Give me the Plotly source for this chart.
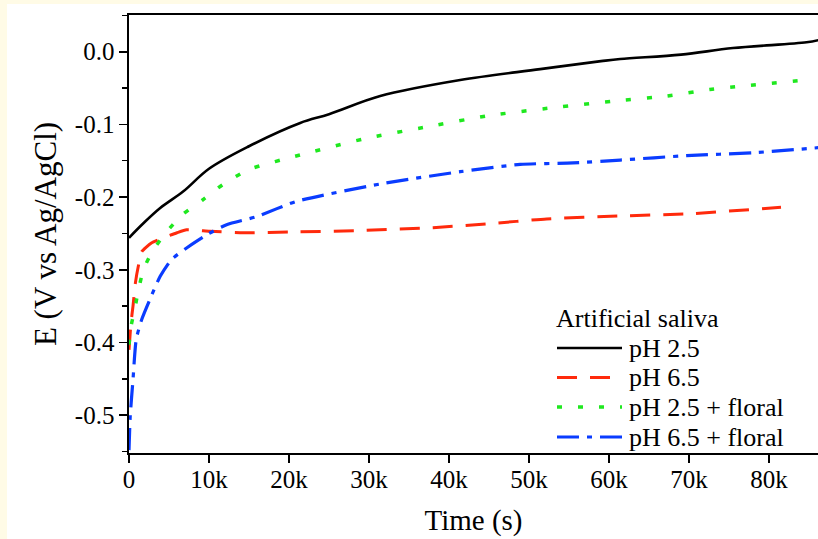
import plotly.graph_objects as go

# ---- data ----
t_ph25 = [0, 1800, 3900, 6800, 10000, 15000, 21400, 25000, 31400, 41400, 51400, 59000,
          61400, 69000, 75500, 84700, 86200]
e_ph25 = [-0.256, -0.236, -0.215, -0.192, -0.161, -0.130, -0.098, -0.086, -0.061, -0.039,
          -0.024, -0.013, -0.010, -0.004, 0.005, 0.013, 0.016]

t_ph65 = [0, 250, 500, 800, 1200, 1600, 2800, 4500, 6000, 7200, 10100, 14300, 20500,
          28900, 38000, 44600, 52200, 61400, 70000, 81500]
e_ph65 = [-0.410, -0.373, -0.350, -0.318, -0.293, -0.275, -0.263, -0.255, -0.249, -0.245,
          -0.247, -0.249, -0.248, -0.246, -0.242, -0.237, -0.230, -0.226, -0.223, -0.214]

t_ph25f = [0, 250, 750, 1200, 1800, 2900, 4600, 6700, 9200, 11700, 15000, 21400, 29300,
           37400, 44900, 53000, 61400, 67200, 72600, 76800, 84500]
e_ph25f = [-0.403, -0.378, -0.352, -0.327, -0.300, -0.275, -0.249, -0.224, -0.204, -0.183,
           -0.162, -0.142, -0.120, -0.103, -0.088, -0.077, -0.067, -0.061, -0.052, -0.047,
           -0.039]

t_ph65f = [0, 150, 500, 900, 1600, 2600, 3900, 5300, 7200, 9700, 12200, 15900, 20900,
           31400, 41400, 48900, 55500, 61400, 69700, 78000, 86200]
e_ph65f = [-0.548, -0.502, -0.451, -0.396, -0.368, -0.341, -0.309, -0.286, -0.270, -0.252,
           -0.238, -0.227, -0.206, -0.182, -0.165, -0.155, -0.153, -0.149, -0.143, -0.139,
           -0.132]

legend_title = "Artificial saliva"
series_names = ["pH 2.5", "pH 6.5", "pH 2.5 + floral", "pH 6.5 + floral"]

x_tickvals = [0, 10000, 20000, 30000, 40000, 50000, 60000, 70000, 80000]
x_ticktext = ["0", "10k", "20k", "30k", "40k", "50k", "60k", "70k", "80k"]
y_tickvals = [-0.5, -0.4, -0.3, -0.2, -0.1, 0.0]
y_ticktext = ["-0.5", "-0.4", "-0.3", "-0.2", "-0.1", "0.0"]

FONT = "Liberation Serif, Times New Roman, serif"

styles = [
    dict(color="#000000", width=2.6, dash="solid"),
    dict(color="#FF2A0C", width=3, dash="20px,13px"),
    dict(color="#1FE81F", width=3.5, dash="5px,16px"),
    dict(color="#0A3CFF", width=3.2, dash="22px,8px,5px,8px"),
]
smooth = [1.0, 0.5, 0.6, 0.6]

fig = go.Figure()
for (tx, ey), name, st, sm in zip([(t_ph25, e_ph25), (t_ph65, e_ph65),
                                   (t_ph25f, e_ph25f), (t_ph65f, e_ph65f)],
                                  series_names, styles, smooth):
    fig.add_trace(go.Scatter(x=tx, y=ey, mode="lines", name=name,
                             line=dict(shape="spline", smoothing=sm, **st),
                             showlegend=False))

L, R, T, B = 129, 0, 15, 86
W, H = 818, 539
pw = W - L - R
ph = H - T - B


def px_x(px):
    return (px - L) / pw


def px_y(py):
    return (H - B - py) / ph


# white page area (the reference has a thin cream frame on the left and top)
fig.add_shape(type="rect", xref="paper", yref="paper", layer="below",
              x0=px_x(7), x1=px_x(830), y0=px_y(545), y1=px_y(4),
              fillcolor="white", line=dict(width=0))

# legend, drawn by hand to match the reference key length and spacing
rows = [348, 377.5, 407, 437]
fig.add_annotation(text=legend_title, xref="paper", yref="paper",
                   x=px_x(554), y=px_y(318), xanchor="left", yanchor="middle",
                   showarrow=False, font=dict(family=FONT, size=26, color="black"))
for name, st, ry in zip(series_names, styles, rows):
    fig.add_shape(type="line", xref="paper", yref="paper",
                  x0=px_x(557), x1=px_x(622), y0=px_y(ry), y1=px_y(ry),
                  line=st)
    fig.add_annotation(text=name, xref="paper", yref="paper",
                       x=px_x(627), y=px_y(ry), xanchor="left", yanchor="middle",
                       showarrow=False, font=dict(family=FONT, size=26, color="black"))

fig.update_layout(
    width=W, height=H,
    margin=dict(l=L, r=R, t=T, b=B, pad=0),
    paper_bgcolor="#FFFBE6",
    plot_bgcolor="white",
    font=dict(family=FONT, color="black", size=25),
    showlegend=False,
    hovermode=False,
    xaxis=dict(
        range=[0, 86125], tickvals=x_tickvals, ticktext=x_ticktext,
        showgrid=False, zeroline=False, automargin=False,
        showline=True, linecolor="black", linewidth=1.6, mirror=True,
        ticks="outside", ticklen=8, tickwidth=1.6, tickcolor="black",
        ticklabelstandoff=-5,
        tickfont=dict(family=FONT, size=25, color="black"),
        title=dict(text="Time (s)", font=dict(family=FONT, size=29), standoff=18),
    ),
    yaxis=dict(
        range=[-0.552, 0.0505], tickvals=y_tickvals, ticktext=y_ticktext,
        showgrid=False, zeroline=False, automargin=False,
        showline=True, linecolor="black", linewidth=1.6,
        ticks="outside", ticklen=8, tickwidth=1.6, tickcolor="black",
        tickfont=dict(family=FONT, size=25, color="black"),
        minor=dict(dtick=0.05, tick0=0, ticks="outside", ticklen=5, tickwidth=1.4,
                   tickcolor="black", showgrid=False),
        title=dict(text="E (V vs Ag/AgCl)", font=dict(family=FONT, size=31), standoff=9),
    ),
)

fig.write_html("out.html",
               config={"displayModeBar": False, "staticPlot": True},
               post_script="document.body.style.margin='0';document.body.style.padding='0';")
